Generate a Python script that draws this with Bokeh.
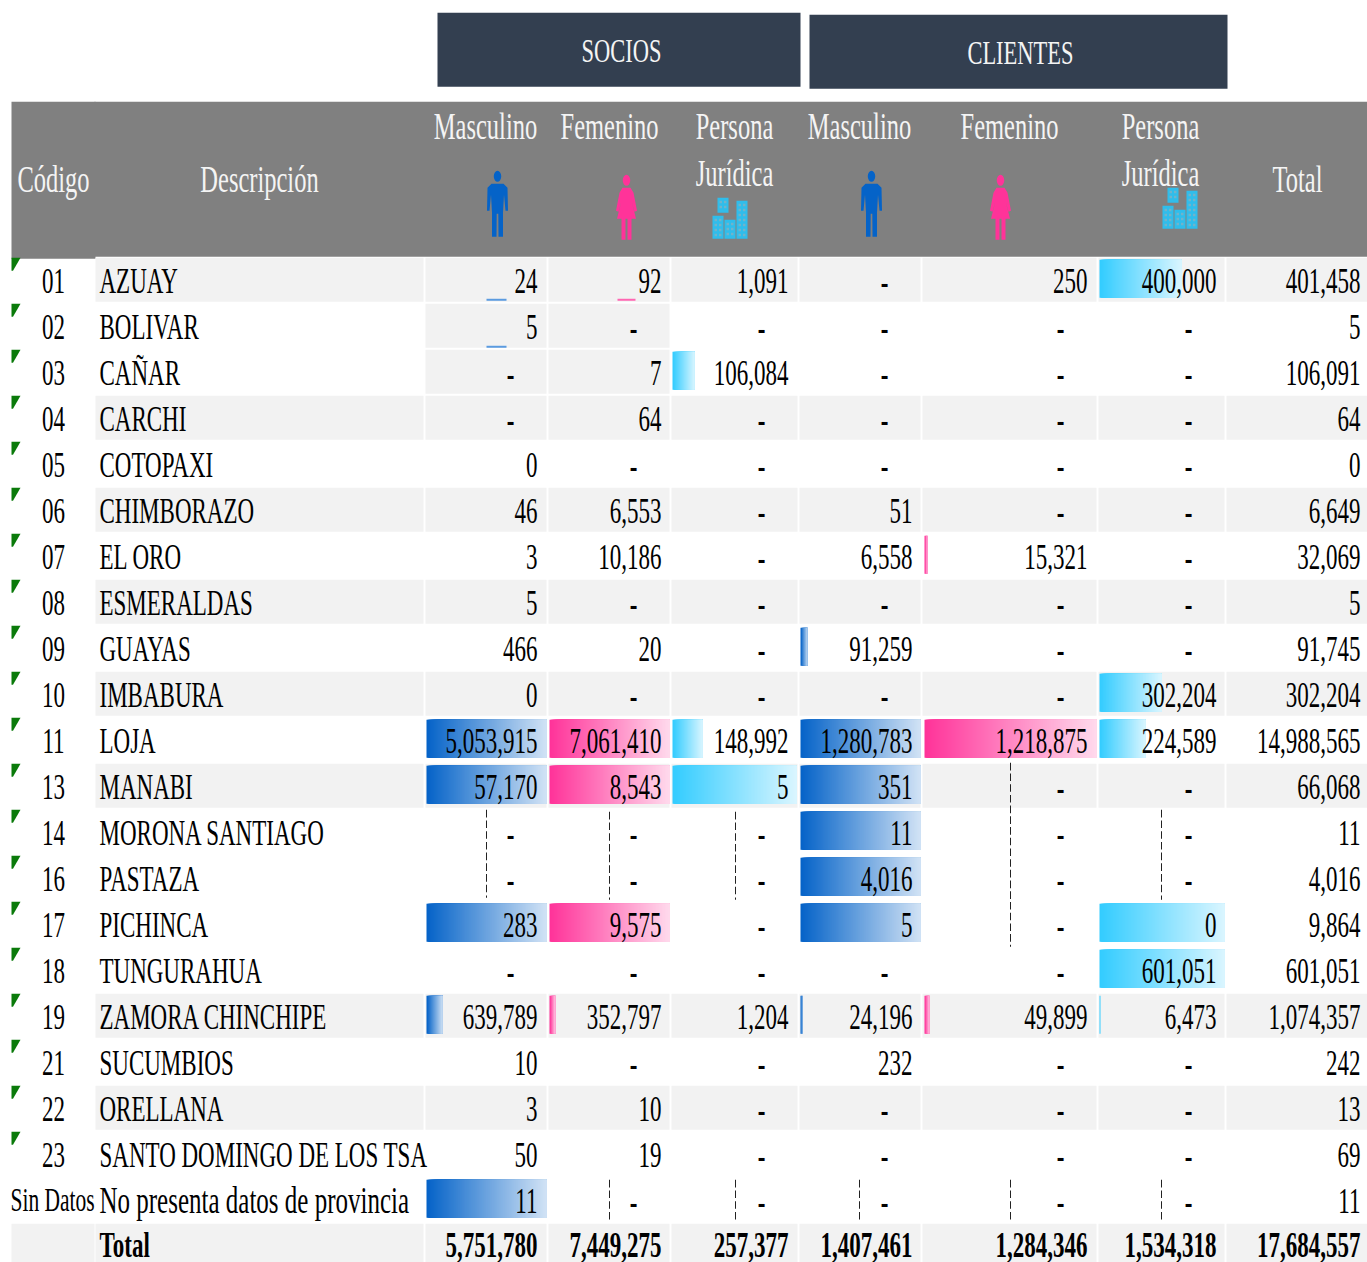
from bokeh.plotting import figure
from bokeh.models import Range1d
from bokeh.core.properties import value
from bokeh.embed import file_html
from bokeh.resources import INLINE

# ---------- data ----------
codes = ["01","02","03","04","05","06","07","08","09","10","11","13","14","16","17","18","19","21","22","23","Sin Datos",""]
names = ["AZUAY","BOLIVAR","CAÑAR","CARCHI","COTOPAXI","CHIMBORAZO","EL ORO","ESMERALDAS","GUAYAS","IMBABURA","LOJA",
         "MANABI","MORONA SANTIAGO","PASTAZA","PICHINCA","TUNGURAHUA","ZAMORA CHINCHIPE","SUCUMBIOS","ORELLANA",
         "SANTO DOMINGO DE LOS TSA","No presenta datos de provincia","Total"]
socios_m = [24,5,None,None,0,46,3,5,466,0,5053915,57170,None,None,283,None,639789,10,3,50,11,5751780]
socios_f = [92,None,7,64,None,6553,10186,None,20,None,7061410,8543,None,None,9575,None,352797,None,10,19,None,7449275]
socios_j = [1091,None,106084,None,None,None,None,None,None,None,148992,5,None,None,None,None,1204,None,None,None,None,257377]
client_m = [None,None,None,None,None,51,6558,None,91259,None,1280783,351,11,4016,5,None,24196,232,None,None,None,1407461]
client_f = [250,None,None,None,None,None,15321,None,None,None,1218875,None,None,None,None,None,49899,None,None,None,None,1284346]
client_j = [400000,None,None,None,None,None,None,None,None,302204,224589,None,None,None,0,601051,6473,None,None,None,None,1534318]
totals = [401458,5,106091,64,0,6649,32069,5,91745,302204,14988565,66068,11,4016,9864,601051,1074357,242,13,69,11,17684557]

# data-bar share of the cell (row index -> share)
bars_socios_m = {10:1, 11:1, 14:1, 16:.13, 20:1}
bars_socios_f = {10:1, 11:1, 14:1, 16:.05}
bars_socios_j = {2:.18, 10:.24, 11:1}
bars_client_m = {8:.06, 10:1, 11:1, 12:1, 13:1, 14:1, 16:.02}
bars_client_f = {6:.015, 10:1, 16:.03}
bars_client_j = {0:.66, 9:.5, 10:.37, 14:1, 15:1, 16:.01}

gray_rows = [0,3,5,7,9,11,16,18,21]
gray_extra_rows = [1,2]          # only the two "socios" gender cells are shaded

# ---------- layout ----------
H = 825
S = 1262/H                       # the reference is vertically stretched
BLUE, PINK, CYAN = (5,99,200), (255,51,153), (51,204,255)
ROW0, PITCH, BAND = 258, 46, 44

def top(i): return ROW0 + PITCH*i
def base(i): return top(i) + 36

p = figure(width=1367, height=H, x_range=Range1d(1,1368), y_range=Range1d(1263,1),
           x_axis_location=None, y_axis_location=None, toolbar_location=None,
           output_backend="svg", min_border=0, outline_line_color=None, background_fill_color="white")
p.grid.visible = False
p.stylesheets = [".bk-Canvas { transform: scaleY(%f); transform-origin: 0 0; }" % S]

FONT = value("Liberation Serif")

def boxes(l, r, t, b, c):
    p.quad(left=l, right=r, top=t, bottom=b, fill_color=c, line_color=None)

def texts(x, y, t, size, color="#000000", align="right", style="normal"):
    # Bokeh drops the alphabetic baseline lower than asked, by about half the font size
    p.text(x=x, y=[v - 0.52*size for v in y], text=t, text_font=FONT, text_font_size=f"{size}px", text_color=color,
           text_align=align, text_baseline="alphabetic", text_font_style=style)

# header blocks
boxes([438,810],[801,1228],[13,15],[87,89],"#333F50")
boxes([12,95],[96,1368],[102,102],[259,257],"#808080")

# cell shading
cells = [(96,424),(426,547),(549,670),(672,798),(800,921),(923,1097),(1099,1225),(1227,1368)]
L,R,T,B = [],[],[],[]
for i in gray_rows:
    h = BAND if i < 21 else 39
    for a,b in cells:
        L.append(a); R.append(b); T.append(top(i)); B.append(top(i)+h)
L.append(12); R.append(95); T.append(top(21)); B.append(top(21)+39)
for i in gray_extra_rows:
    for a,b in cells[1:3]:
        L.append(a); R.append(b); T.append(top(i)); B.append(top(i)+BAND)
boxes(L,R,T,B,"#F2F2F2")

# gradient data bars: slices painted left to right, each reaching the bar's end
def grad(bars, x0, width, rgb):
    L,R,T,B,C = [],[],[],[],[]
    for i,share in bars.items():
        w = max(1, round(width*share))
        for k in range(0, w):
            f = k/w
            c = tuple(round(v + (255-v)*f*0.82) for v in rgb)
            L.append(x0+k); R.append(x0+w); T.append(top(i)+2); B.append(top(i)+40)
            C.append("#%02x%02x%02x" % c)
    boxes(L,R,T,B,C)

grad(bars_socios_m, 427, 120, BLUE)
grad(bars_socios_f, 550, 120, PINK)
grad(bars_socios_j, 673, 124, CYAN)
grad(bars_client_m, 801, 120, BLUE)
grad(bars_client_f, 925, 172, PINK)
grad(bars_client_j, 1100, 125, CYAN)

# small data-bar remnants under the first cells
boxes([487,487,618],[507,507,636],[top(0)+41,top(1)+42,top(0)+41],[top(0)+43,top(1)+44,top(0)+43],
      ["#5B9BE0","#5B9BE0","#FF66B2"])

# dashed rules
dx = [487,610,736,1162,1011,610,736,860,1011,1162]
dt = [810,812,812,810,763,1180,1180,1180,1180,1180]
db = [898,900,900,900,947,1220,1220,1220,1220,1220]
p.segment(x0=dx, y0=dt, x1=dx, y1=db, line_color="#222222", line_width=1, line_dash="5 2")

# green corner markers
xs = [[12,21,13.5,12] for _ in range(20)]
ys = [[top(i),top(i),top(i)+13,top(i)+13] for i in range(20)]
p.patches(xs, ys, fill_color="#0A7A0A", line_color=None)

# row labels
texts([54]*20, [base(i) for i in range(20)], codes[:20], 23, align="center")
texts([100]*20, [base(i) for i in range(20)], names[:20], 23, align="left")
texts([11], [base(20)-2], ["Sin Datos"], 21.5, align="left")
texts([100], [base(20)-1], [names[20]], 25, align="left")
texts([100], [base(21)-2], [names[21]], 23, align="left", style="bold")

# numeric columns
cols = [(socios_m,538,511),(socios_f,662,634),(socios_j,789,762),(client_m,913,885),
        (client_f,1088,1061),(client_j,1217,1189),(totals,1361,None)]
for vals,xr,xd in cols:
    num = [(i,v) for i,v in enumerate(vals) if v is not None and i < 21]
    texts([xr]*len(num), [base(i) for i,_ in num], [f"{v:,}" for _,v in num], 23)
    dash = [i for i,v in enumerate(vals) if v is None]
    if dash:
        texts([xd]*len(dash), [base(i)+1 for i in dash], ["-"]*len(dash), 23, align="center", style="bold")
    texts([xr], [base(21)-2], [f"{vals[21]:,}"], 23, style="bold")

# header texts
HC = "#F4F4F4"
texts([622,1021],[62,64],["SOCIOS","CLIENTES"],22.5,HC,"center")
texts([486,610,735,860,1010,1161],[139]*6,["Masculino","Femenino","Persona","Masculino","Femenino","Persona"],24.5,HC,"center")
texts([735,1161],[186,186],["Jurídica","Jurídica"],24.5,HC,"center")
texts([54,260,1298],[192]*3,["Código","Descripción","Total"],24.5,HC,"center")

# icons
man = [(-6,13),(6,13),(10,17),(10.5,40),(8,40),(6.5,24),(5.5,42),(5.5,66),(1,66),(.8,43),(-.8,43),(-1,66),(-5.5,66),(-5.5,42),(-6.5,24),(-8,40),(-10.5,40),(-10,17)]
woman = [(-4,13),(4,13),(7,18),(10.5,36),(8,37),(5,26),(9.5,44),(5,44),(5,65),(1,65),(1,44),(-1,44),(-1,65),(-5,65),(-5,44),(-9.5,44),(-5,26),(-8,37),(-10.5,36),(-7,18)]
def person(cx, y0, shape, color):
    p.patch([cx+a for a,_ in shape],[y0+b for _,b in shape],fill_color=color,line_color=None)
    p.ellipse(x=[cx],y=[y0+5.5],width=7.5,height=11,fill_color=color,line_color=None)
person(498,171,man,"#0563C8"); person(872,171,man,"#0563C8")
person(627,175,woman,"#FF3399"); person(1001,175,woman,"#FF3399")

def building(x0,y0):
    towers = [(0,11,18,41),(5,16,0,15),(12,23,22,41),(24,35,3,41)]
    boxes([x0+a for a,_,_,_ in towers],[x0+b for _,b,_,_ in towers],
          [y0+c for _,_,c,_ in towers],[y0+d for _,_,_,d in towers],"#2FBDEB")
    L,R,T,B = [],[],[],[]
    for a,b,c,d in towers:
        y = c+3
        while y+2 < d-2:
            for ox in (2,6.5):
                L.append(x0+a+ox); R.append(x0+a+ox+2.5); T.append(y0+y); B.append(y0+y+2.5)
            y += 5
    boxes(L,R,T,B,"#6FB4CC")
building(713,198); building(1163,188)

open("out.html","w").write(file_html(p, INLINE))
